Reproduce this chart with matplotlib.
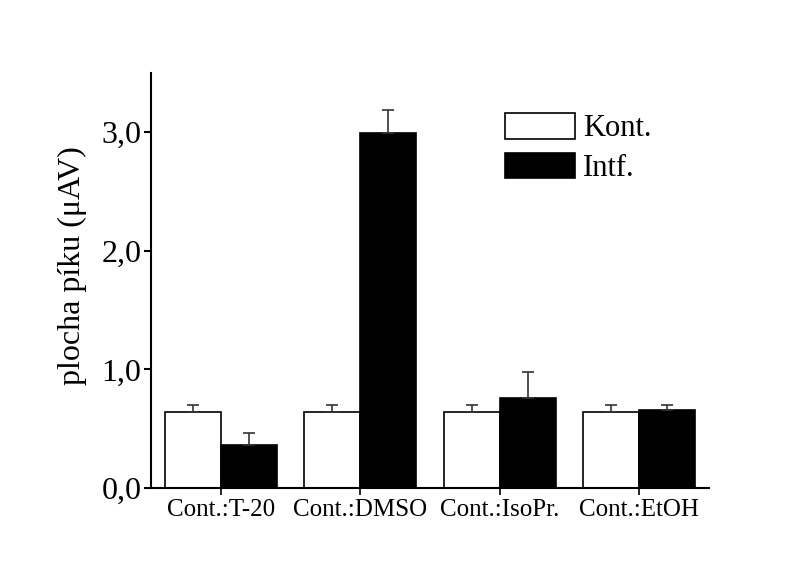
import numpy as np
import matplotlib.pyplot as plt
from matplotlib.ticker import FuncFormatter

categories = ['Cont.:T-20', 'Cont.:DMSO', 'Cont.:IsoPr.', 'Cont.:EtOH']
kont_vals = [0.64, 0.64, 0.64, 0.64]
kont_err = [0.06, 0.06, 0.06, 0.06]
intf_vals = [0.36, 2.99, 0.76, 0.66]
intf_err = [0.10, 0.20, 0.22, 0.04]

plt.rcParams['font.family'] = ['Liberation Serif', 'DejaVu Serif']

fig = plt.figure(figsize=(8.09, 5.73), dpi=100)
ax = fig.add_axes([0.1867, 0.1483, 0.6897, 0.7243])

x = np.arange(len(categories))
width = 0.4
err_kw = dict(ecolor='#333333', elinewidth=1.2, capsize=4, capthick=1.2)

ax.bar(x - width / 2, kont_vals, width, yerr=[np.zeros(4), kont_err],
       color='white', edgecolor='black', linewidth=1.2, label='Kont.',
       error_kw=err_kw)
ax.bar(x + width / 2, intf_vals, width, yerr=[np.zeros(4), intf_err],
       color='black', edgecolor='black', linewidth=1.2, label='Intf.',
       error_kw=err_kw)

ax.set_xlim(-0.5, 3.5)
ax.set_ylim(0, 3.5)
ax.set_yticks([0, 1, 2, 3])
ax.yaxis.set_major_formatter(FuncFormatter(lambda v, p: f'{v:.1f}'.replace('.', ',')))
ax.set_xticks(x)
ax.set_xticklabels(categories, fontsize=18)
ax.tick_params(axis='x', length=5, width=1.2, direction='out', pad=3)
ax.tick_params(axis='y', labelsize=23, length=5, width=1.5, direction='out', pad=2)

ax.spines['top'].set_visible(False)
ax.spines['right'].set_visible(False)
ax.spines['left'].set_linewidth(1.5)
ax.spines['bottom'].set_linewidth(1.5)

ax.set_ylabel('plocha píku (μAV)', fontsize=23)
ax.yaxis.set_label_coords(-0.114, 0.535)

ax.legend(loc='upper left', bbox_to_anchor=(0.6125, 0.933), frameon=False,
          fontsize=22, handlelength=2.3, handleheight=0.92,
          labelspacing=0.3, handletextpad=0.25, borderaxespad=0)

fig.savefig('out.png', dpi=100)
